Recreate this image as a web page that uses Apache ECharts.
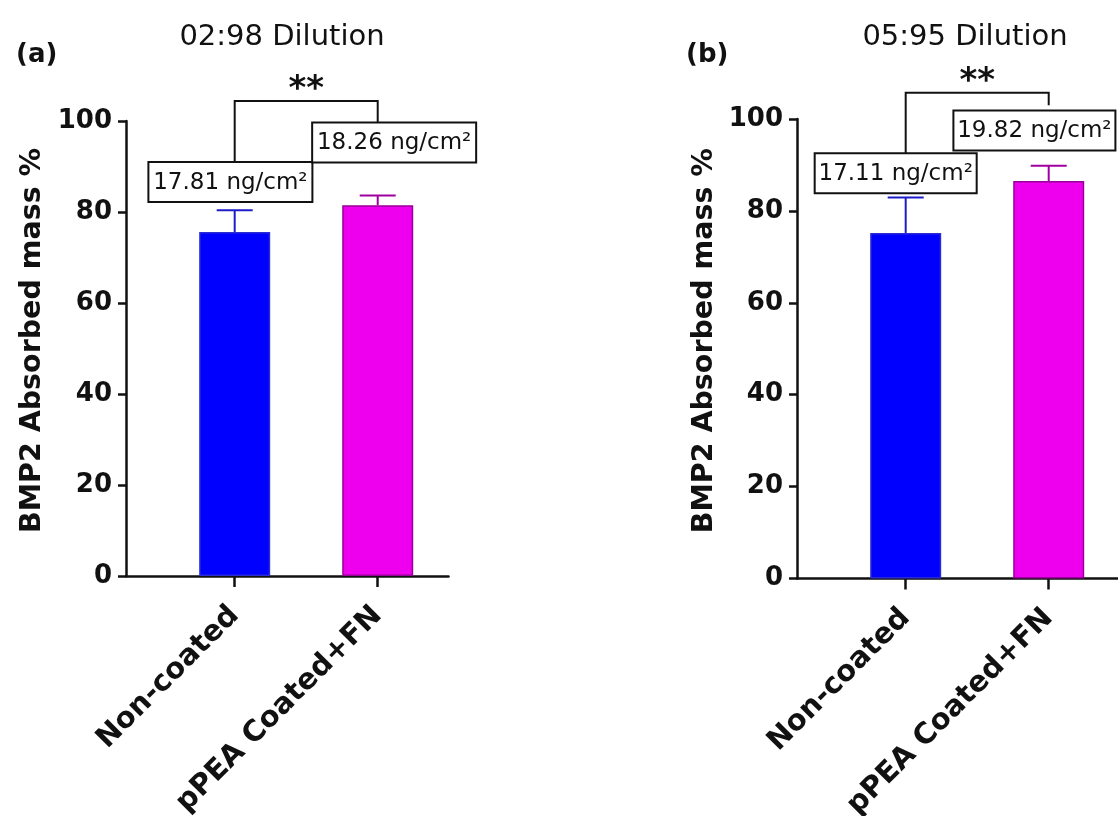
<!DOCTYPE html>
<html>
<head>
<meta charset="utf-8">
<script src="https://cdn.jsdelivr.net/npm/echarts@6.0.0/dist/echarts.min.js"></script>
<style>
  html, body { margin: 0; padding: 0; background: #fff; }
  #chart { width: 1118px; height: 816px; }
</style>
</head>
<body>
<div id="chart"></div>
<script>
// data
var categories = ['Non-coated', 'pPEA Coated+FN'];
var meanA = [75.6, 81.5];
var sdA = [4.8, 2.1];
var meanB = [75.2, 86.5];
var sdB = [7.7, 3.3];
var notesA = ['17.81 ng/cm²', '18.26 ng/cm²'];
var notesB = ['17.11 ng/cm²', '19.82 ng/cm²'];
var titles = ['02:98 Dilution', '05:95 Dilution'];
var tags = ['(a)', '(b)'];
var sigMarks = ['**', '**'];

var barColors = ['#0000ff', '#ee00ee'];
var barBorders = ['#2b2bd6', '#990099'];
var errColors = ['#1c1cc8', '#a000a0'];
var FONT = 'DejaVu Sans';
var INK = '#111';

var myChart = echarts.init(document.getElementById('chart'));

// per panel layout (annotations are in data coordinates)
var panels = [
    {
        mean: meanA, sd: sdA, notes: notesA,
        grid: { left: 126, top: 121, width: 322.5, height: 455, outerBoundsMode: 'none' },
        titleX: 277, tagX: 11, nameGap: 79,
        boxPos: [[-0.03, 86.6], [1.115, 95.3]], boxW: 164,
        bracket: { top: 104.4, legs: [91.0, 99.8] }
    },
    {
        mean: meanB, sd: sdB, notes: notesB,
        grid: { left: 797, top: 119, width: 322.5, height: 459.5, outerBoundsMode: 'none' },
        titleX: 960, tagX: 681, nameGap: 78,
        boxPos: [[-0.07, 88.2], [0.9, 97.5]], boxW: 162,
        bracket: { top: 105.7, legs: [92.6, 103.0] }
    }
];

var option = {
    animation: false,
    backgroundColor: '#fff',
    title: [],
    grid: [],
    xAxis: [],
    yAxis: [],
    series: []
};

panels.forEach(function (p, k) {
    option.title.push({
        text: titles[k], left: p.titleX, top: 18, textAlign: 'center',
        textStyle: { fontFamily: FONT, fontSize: 29, fontWeight: 'normal', color: INK }
    });
    option.title.push({
        text: tags[k], left: p.tagX, top: 37,
        textStyle: { fontFamily: FONT, fontSize: 26, fontWeight: 'bold', color: INK }
    });

    option.grid.push(p.grid);

    option.xAxis.push({
        type: 'value', gridIndex: k,
        min: -0.76, max: 1.495,
        splitLine: { show: false },
        axisLine: { show: true, onZero: false, lineStyle: { color: INK, width: 2.5 } },
        axisTick: { show: true, length: 11, customValues: [0, 1], lineStyle: { color: INK, width: 2.5 } },
        axisLabel: {
            customValues: [0, 1],
            rotate: 45, margin: 35,
            fontFamily: FONT, fontSize: 29, fontWeight: 'bold', color: INK,
            formatter: function (v) { return categories[Math.round(v)]; }
        }
    });

    option.yAxis.push({
        type: 'value', gridIndex: k,
        min: 0, max: 100, interval: 20,
        name: 'BMP2 Absorbed mass %',
        nameLocation: 'middle', nameGap: p.nameGap,
        nameTextStyle: { fontFamily: FONT, fontSize: 28.5, fontWeight: 'bold', color: INK, padding: [0, 0, 0, 16] },
        splitLine: { show: false },
        axisLine: { show: true, onZero: false, lineStyle: { color: INK, width: 2.5 } },
        axisTick: { show: true, length: 8, lineStyle: { color: INK, width: 2.5 } },
        axisLabel: { margin: 14, fontFamily: FONT, fontSize: 26, fontWeight: 'bold', color: INK }
    });

    // bars
    option.series.push({
        type: 'bar', xAxisIndex: k, yAxisIndex: k,
        barWidth: 71,
        data: p.mean.map(function (m, i) {
            return {
                value: [i, m],
                itemStyle: { color: barColors[i], borderColor: barBorders[i], borderWidth: 1.5 }
            };
        })
    });

    // error bars (upper only)
    option.series.push({
        type: 'custom', xAxisIndex: k, yAxisIndex: k, z: 1,
        data: p.mean.map(function (m, i) { return [i, m, p.sd[i]]; }),
        renderItem: function (params, api) {
            var x = api.value(0), m = api.value(1), s = api.value(2);
            var p0 = api.coord([x, m]);
            var p1 = api.coord([x, m + s]);
            var c = errColors[params.dataIndex];
            return {
                type: 'group',
                children: [
                    { type: 'line', shape: { x1: p0[0], y1: p0[1], x2: p1[0], y2: p1[1] }, style: { stroke: c, lineWidth: 2 } },
                    { type: 'line', shape: { x1: p1[0] - 18, y1: p1[1], x2: p1[0] + 18, y2: p1[1] }, style: { stroke: c, lineWidth: 2 } }
                ]
            };
        }
    });

    // note boxes
    option.series.push({
        type: 'custom', xAxisIndex: k, yAxisIndex: k, z: 5, clip: false,
        data: p.notes.map(function (t, i) { return [p.boxPos[i][0], p.boxPos[i][1]]; }),
        renderItem: function (params, api) {
            var c = api.coord([api.value(0), api.value(1)]);
            var w = p.boxW, h = 40;
            return {
                type: 'group',
                children: [
                    { type: 'rect', shape: { x: c[0] - w / 2, y: c[1] - h / 2, width: w, height: h }, style: { fill: '#fff', stroke: INK, lineWidth: 2 } },
                    { type: 'text', style: { text: p.notes[params.dataIndex], x: c[0], y: c[1] + 1, align: 'center', verticalAlign: 'middle', fontFamily: FONT, fontSize: 23, fill: INK } }
                ]
            };
        }
    });

    // significance bracket
    option.series.push({
        type: 'custom', xAxisIndex: k, yAxisIndex: k, z: 4, clip: false,
        data: [[0, 1, p.bracket.top, p.bracket.legs[0], p.bracket.legs[1]]],
        renderItem: function (params, api) {
            var a = api.coord([api.value(0), api.value(2)]);
            var b = api.coord([api.value(1), api.value(2)]);
            var la = api.coord([api.value(0), api.value(3)]);
            var lb = api.coord([api.value(1), api.value(4)]);
            return {
                type: 'group',
                children: [
                    { type: 'polyline', shape: { points: [[la[0], la[1]], [a[0], a[1]], [b[0], b[1]], [lb[0], lb[1]]] }, style: { stroke: INK, lineWidth: 2, fill: 'none' } },
                    { type: 'text', style: { text: sigMarks[k], x: (a[0] + b[0]) / 2, y: a[1] + 6, align: 'center', verticalAlign: 'bottom', fontFamily: FONT, fontSize: 34, fontWeight: 'bold', fill: INK } }
                ]
            };
        }
    });
});

myChart.setOption(option);
</script>
</body>
</html>
